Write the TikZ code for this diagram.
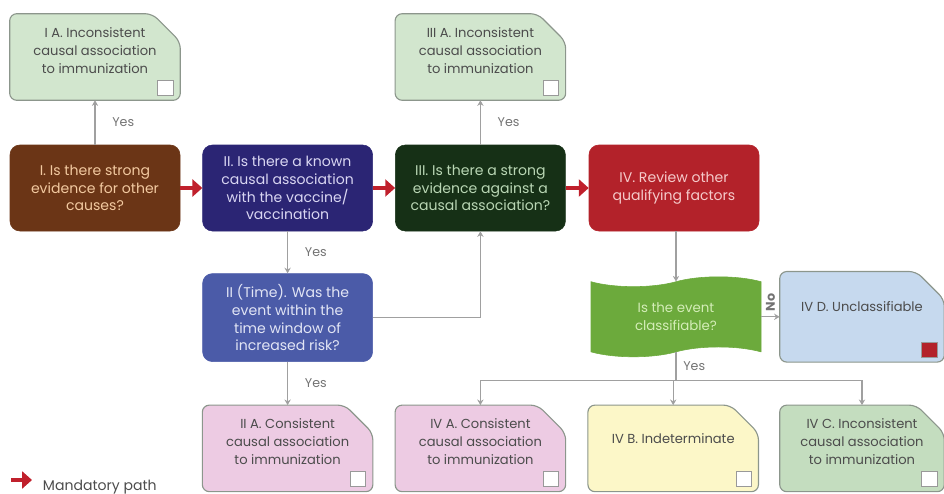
\documentclass[tikz,border=0pt]{standalone}
\usepackage{fontspec}
\setmainfont{Poppins}
\usetikzlibrary{arrows.meta,shapes.symbols,backgrounds}

\definecolor{brownq}{HTML}{6B3516}
\definecolor{navyq}{HTML}{2B2574}
\definecolor{darkgreenq}{HTML}{163016}
\definecolor{redq}{HTML}{B3222A}
\definecolor{blueq}{HTML}{4B5BA8}
\definecolor{greenq}{HTML}{6CAA3C}
\definecolor{mintbox}{HTML}{D2E6CE}
\definecolor{sagebox}{HTML}{C4DDBF}
\definecolor{pinkbox}{HTML}{EDCBE3}
\definecolor{creambox}{HTML}{FCF7C8}
\definecolor{skybox}{HTML}{C6D9EE}
\definecolor{edgegray}{HTML}{8C968C}
\definecolor{linkgray}{HTML}{A0A0A0}
\definecolor{pathred}{HTML}{C0202C}
\definecolor{textgray}{HTML}{4C4C4C}

% riga vuota sotto il testo, per lasciare posto alla casella
\newcommand{\boxgap}[1]{\\[#1]\mbox{}}

\begin{document}
\begin{tikzpicture}[
    question/.style={
        rectangle,
        rounded corners=7pt,
        draw=#1,
        fill=#1,
        minimum width=4.25cm,
        minimum height=2.15cm,
        align=center,
        font=\fontsize{10}{12.7}\selectfont
    },
    outcome/.style={
        rectangle,
        text=textgray,
        minimum width=4.25cm,
        minimum height=2.15cm,
        align=center,
        font=\fontsize{9.3}{12.7}\selectfont
    },
    link/.style={draw=linkgray, line width=0.9pt, -{Stealth[length=4pt,width=4.5pt]}},
    mandatory/.style={draw=pathred, line width=2.6pt, -{Triangle[length=7pt,width=12pt]}},
    yes/.style={font=\fontsize{9}{11}\selectfont, text=gray!90!black}
]
    \useasboundingbox (0,0) rectangle (23.6,-12.35);

    % Domande
    \node[question=brownq, text={rgb,255:red,242;green,201;blue,160}] (qI) at (2.375,-4.7)
         {I. Is there strong\\evidence for other\\causes?};
    \node[question=navyq, text={rgb,255:red,217;green,214;blue,242}] (qII) at (7.19,-4.7)
         {II. Is there a known\\causal association\\with the vaccine/\\vaccination};
    \node[question=darkgreenq, text={rgb,255:red,185;green,214;blue,180}] (qIII) at (12.01,-4.7)
         {III. Is there a strong\\evidence against a\\causal association?};
    \node[question=redq, text={rgb,255:red,245;green,202;blue,202}] (qIV) at (16.85,-4.7)
         {IV. Review other\\qualifying factors};
    \node[question=blueq, minimum height=2.2cm, text={rgb,255:red,226;green,229;blue,245}] (qTime) at (7.19,-7.94)
         {II (Time). Was the\\event within the\\time window of\\increased risk?};
    \node[tape, tape bend height=7pt, draw=greenq, fill=greenq, minimum width=4.25cm, minimum height=2.0cm,
          align=center, font=\fontsize{9.5}{12.7}\selectfont, text={rgb,255:red,212;green,237;blue,184}] (cls) at (16.9,-7.92)
         {Is the event\\classifiable?};

    % Esiti
    \node[outcome] (IA) at (2.375,-1.425)
         {I A. Inconsistent\\causal association\\to immunization\boxgap{-3pt}};
    \node[outcome] (IIIA) at (12.01,-1.425)
         {III A. Inconsistent\\causal association\\to immunization\boxgap{-3pt}};
    \node[outcome] (IIA) at (7.19,-11.21)
         {II A. Consistent\\causal association\\to immunization\boxgap{-3pt}};
    \node[outcome] (IVA) at (12.01,-11.21)
         {IV A. Consistent\\causal association\\to immunization\boxgap{-3pt}};
    \node[outcome] (IVB) at (16.83,-11.21)
         {IV B. Indeterminate\boxgap{1pt}};
    \node[outcome, minimum width=4.1cm] (IVC) at (21.55,-11.21)
         {IV C. Inconsistent\\causal association\\to immunization\boxgap{-3pt}};
    \node[outcome, minimum width=4.1cm, minimum height=2.25cm] (IVD) at (21.55,-7.92)
         {IV D. Unclassifiable\boxgap{2pt}};

    % Sagome degli esiti (angolo tagliato e casella)
    \begin{scope}[on background layer]
        \foreach \n/\c/\t in {IA/mintbox/white, IIIA/mintbox/white, IIA/pinkbox/white,
                              IVA/pinkbox/white, IVB/creambox/white, IVC/sagebox/white,
                              IVD/skybox/redq} {
            \draw[draw=edgegray, fill=\c, line width=0.8pt, rounded corners=5pt]
                (\n.south west) -- (\n.north west) -- ([xshift=-0.7cm]\n.north east)
                -- ([yshift=-0.7cm]\n.north east) -- (\n.south east) -- cycle;
            \draw[draw=gray!80, fill=\t, line width=0.8pt]
                ([shift={(-0.56,0.12)}]\n.south east) rectangle ++(0.38,0.38);
        }
    \end{scope}

    % Percorso obbligato
    \draw[mandatory] (qI) -- (qII);
    \draw[mandatory] (qII) -- (qIII);
    \draw[mandatory] (qIII) -- (qIV);

    % Connessioni
    \draw[link] (qI) -- (IA) node[yes, midway, right=0.3cm] {Yes};
    \draw[link] (qIII) -- (IIIA) node[yes, midway, right=0.3cm] {Yes};
    \draw[link] (qII) -- (qTime) node[yes, midway, right=0.3cm] {Yes};
    \draw[link] (qTime) -- (IIA) node[yes, midway, right=0.3cm] {Yes};
    \draw[link] (qTime.east) -| (qIII.south);
    \draw[link] (qIV.south -| cls.north) -- (cls.north);
    \draw[link] (cls.east) -- (IVD.west)
         node[yes, midway, rotate=90, anchor=west, font=\fontsize{9}{11}\selectfont\bfseries] {No};

    \coordinate (split) at (16.9,-9.52);
    \draw[draw=linkgray, line width=0.9pt] (cls.south) -- (split)
         node[yes, midway, right=0.05cm] {Yes};
    \draw[link] (split) -- (split -| IVB.north) -- (IVB.north);
    \draw[link] (split) -| (IVA.north);
    \draw[link] (split) -| (IVC.north);

    % Legenda
    \coordinate (legS) at (0.28,-12.0);
    \coordinate (legE) at (0.8,-12.0);
    \draw[mandatory] (legS) -- (legE);
    \node[anchor=west, font=\fontsize{10}{12}\selectfont, text=textgray] (leg) at (0.95,-12.17) {Mandatory path};
\end{tikzpicture}
\end{document}
